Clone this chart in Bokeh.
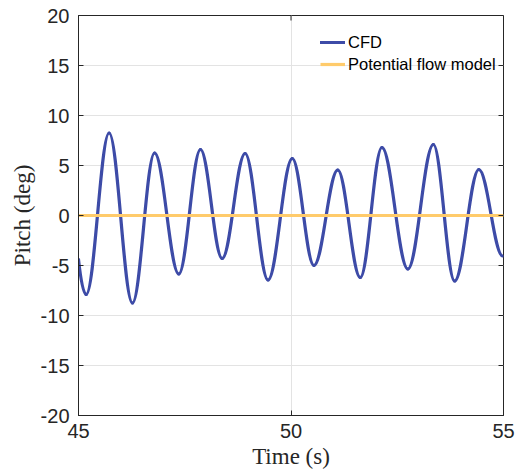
from bokeh.plotting import figure
from bokeh.models import Range1d, FixedTicker, Legend, LegendItem, ColumnDataSource
from bokeh.embed import file_html
from bokeh.resources import INLINE

# ---- data ----
# CFD pitch: start point, successive turning points (peaks/troughs), end point
cfd_time = [45.00, 45.18, 45.72, 46.27, 46.79, 47.36, 47.87, 48.38, 48.92, 49.46,
            50.03, 50.54, 51.10, 51.63, 52.14, 52.75, 53.35, 53.85, 54.42, 54.98]
cfd_pitch = [-4.4, -7.9, 8.25, -8.75, 6.25, -5.85, 6.6, -4.3, 6.2, -6.45,
             5.7, -5.0, 4.55, -6.2, 6.8, -5.35, 7.1, -6.55, 4.6, -4.05]
# Potential flow model: constant zero pitch
pf_time = [45, 55]
pf_pitch = [0, 0]

x_ticks = [45, 50, 55]
y_ticks = [-20, -15, -10, -5, 0, 5, 10, 15, 20]

CFD_COLOR = "#3D4BA7"
PF_COLOR = "#FFCB6B"
AX_COLOR = "#262626"
GRID_COLOR = "#E3E3E3"

x_lo, x_hi = x_ticks[0], x_ticks[-1]
y_lo, y_hi = y_ticks[0], y_ticks[-1]

# ---- smooth curve segments between turning points (cubic Bezier) ----
K = 0.364
x0, y0, x1, y1, cx0, cy0, cx1, cy1 = [], [], [], [], [], [], [], []
for i in range(len(cfd_time) - 1):
    ta, tb = cfd_time[i], cfd_time[i + 1]
    va, vb = cfd_pitch[i], cfd_pitch[i + 1]
    dt = tb - ta
    x0.append(ta); y0.append(va); x1.append(tb); y1.append(vb)
    if i == 0:
        # first point is not a turning point: the curve is still moving there
        cx0.append(ta + dt / 3); cy0.append(va + 2.0 / 3.0 * (vb - va))
        cx1.append(tb - dt / 3); cy1.append(vb)
    else:
        cx0.append(ta + K * dt); cy0.append(va)
        cx1.append(tb - K * dt); cy1.append(vb)

src = ColumnDataSource(dict(x0=x0, y0=y0, x1=x1, y1=y1,
                            cx0=cx0, cy0=cy0, cx1=cx1, cy1=cy1))

W, H = 516, 474
p = figure(width=W, height=H, output_backend="svg", toolbar_location=None,
           x_range=Range1d(x_lo, x_hi), y_range=Range1d(y_lo, y_hi),
           min_border_left=78, min_border_right=13, min_border_top=15,
           min_border_bottom=59, x_axis_label="Time (s)", y_axis_label="Pitch (deg)")
p.background_fill_color = "white"
p.border_fill_color = "white"
p.outline_line_color = AX_COLOR
p.outline_line_width = 1

# grid
p.xgrid.ticker = FixedTicker(ticks=x_ticks)
p.ygrid.ticker = FixedTicker(ticks=y_ticks)
for g in (p.xgrid[0], p.ygrid[0]):
    g.grid_line_color = GRID_COLOR
    g.grid_line_width = 1

r_cfd = p.bezier(x0="x0", y0="y0", x1="x1", y1="y1", cx0="cx0", cy0="cy0",
                 cx1="cx1", cy1="cy1", source=src, line_color=CFD_COLOR,
                 line_width=3.2, line_cap="round")
r_pf = p.line(pf_time, pf_pitch, line_color=PF_COLOR, line_width=3.2)

# main axes (inward ticks)
for ax, ticks in ((p.xaxis[0], x_ticks), (p.yaxis[0], y_ticks)):
    ax.ticker = FixedTicker(ticks=ticks)
    ax.major_label_overrides = {t: str(t) for t in ticks}
    ax.major_tick_in = 5
    ax.major_tick_out = 0
    ax.minor_tick_line_color = None
    ax.axis_line_color = AX_COLOR
    ax.major_tick_line_color = AX_COLOR
    ax.major_label_text_font = "Liberation Sans"
    ax.major_label_text_font_size = "20px"
    ax.major_label_text_color = AX_COLOR
    ax.axis_label_text_font = "Liberation Serif"
    ax.axis_label_text_font_size = "23px"
    ax.axis_label_text_font_style = "normal"
    ax.axis_label_text_color = AX_COLOR

p.xaxis[0].major_label_standoff = 8
p.xaxis[0].axis_label_standoff = 3
p.yaxis[0].major_label_standoff = 9
p.yaxis[0].axis_label_standoff = 3

# inward ticks on the top and right sides of the box
tick_dx = (x_hi - x_lo) * 5 / 425.0
tick_dy = (y_hi - y_lo) * 5 / 400.0
p.segment(x0=[x_hi] * len(y_ticks), y0=y_ticks,
          x1=[x_hi - tick_dx] * len(y_ticks), y1=y_ticks,
          line_color=AX_COLOR, line_width=1)
p.segment(x0=x_ticks, y0=[y_hi] * len(x_ticks),
          x1=x_ticks, y1=[y_hi - tick_dy] * len(x_ticks),
          line_color=AX_COLOR, line_width=1)

legend = Legend(items=[LegendItem(label="CFD", renderers=[r_cfd]),
                       LegendItem(label="Potential flow model", renderers=[r_pf])],
                location=(242, 341), background_fill_alpha=0, border_line_alpha=0,
                padding=0, margin=0, spacing=2, glyph_width=25, glyph_height=20,
                label_height=20, label_standoff=3,
                label_text_font="Liberation Sans", label_text_font_size="16.5px",
                label_text_color="black")
p.add_layout(legend)

open("out.html", "w").write(file_html(p, INLINE))
